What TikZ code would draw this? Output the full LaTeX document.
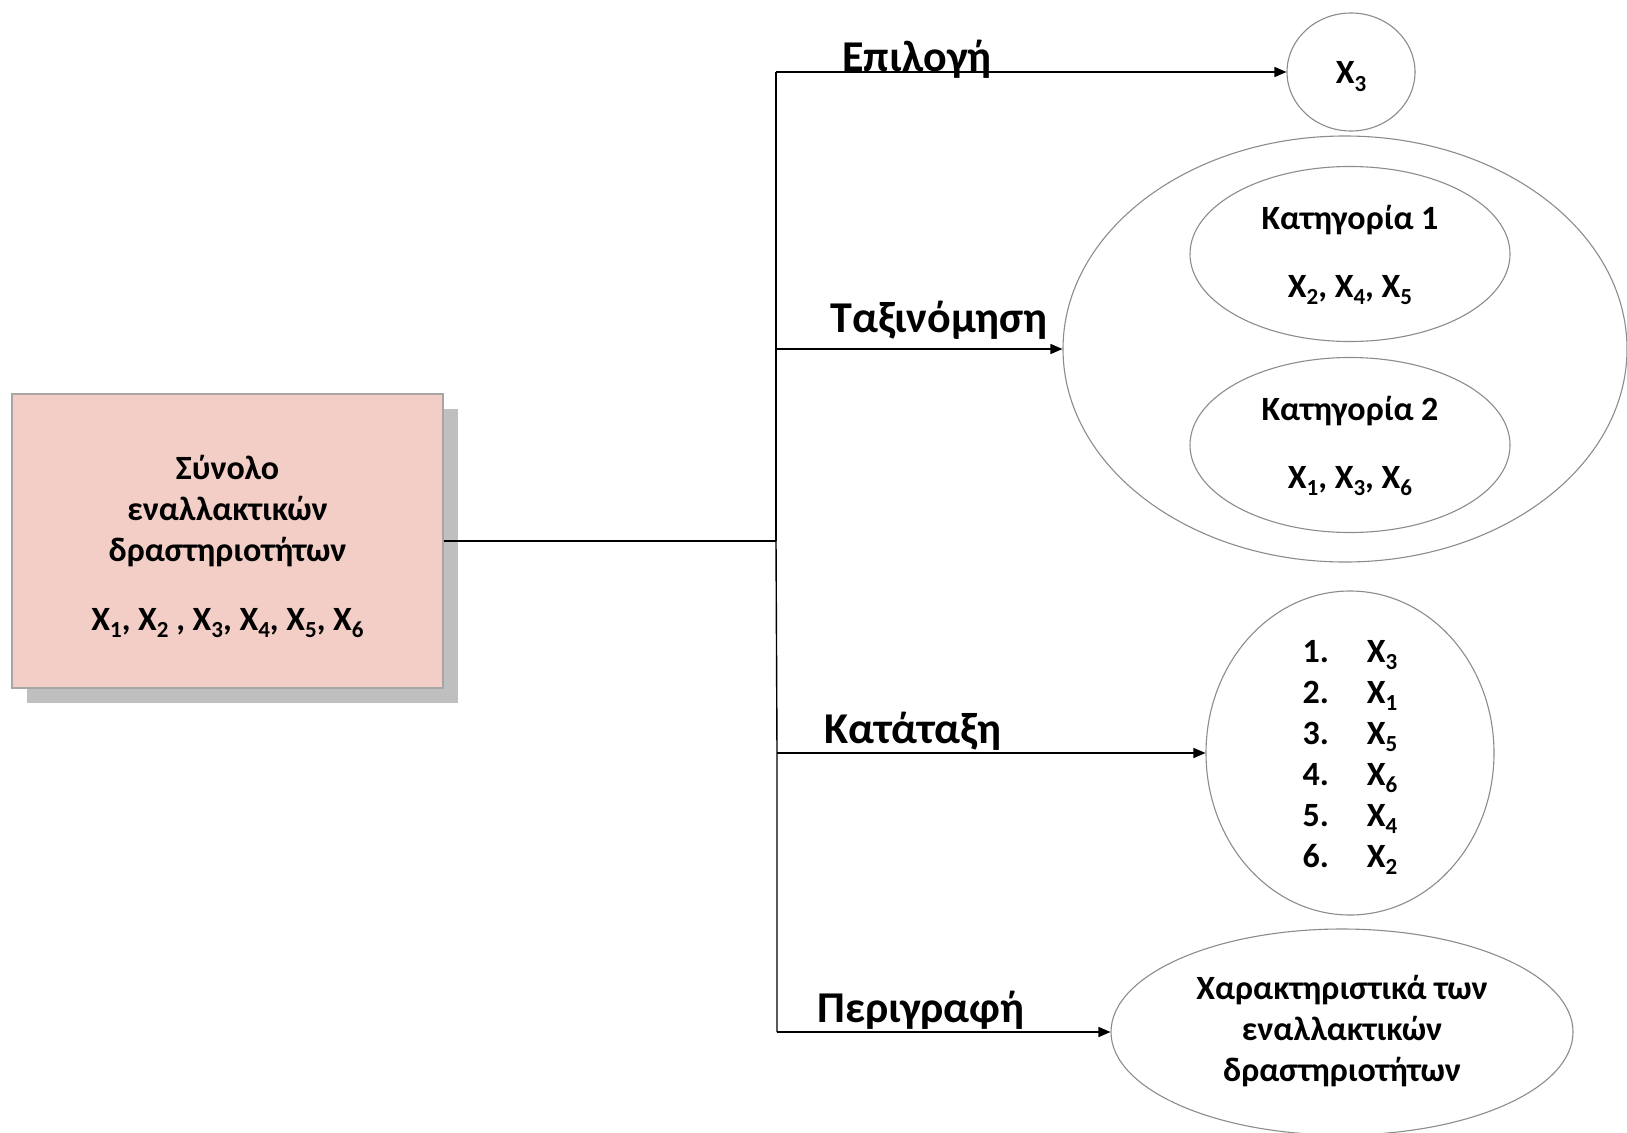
\documentclass[tikz,border=0pt]{standalone}
\usepackage{fontspec}
\setmainfont{Carlito}
\usetikzlibrary{arrows.meta,shapes.geometric}
\definecolor{boxfill}{HTML}{F2CEC6}
\definecolor{boxborder}{HTML}{A6A6A6}
\definecolor{shadowgray}{HTML}{BFBFBF}
\definecolor{ellline}{HTML}{8C8C8C}
\newcommand{\Xs}[1]{X\raisebox{-7pt}{\fontsize{23}{23}\selectfont #1}}
\begin{document}
\begin{tikzpicture}[x=1pt,y=-1pt,
  conn/.style={line width=1.4pt, draw=black},
  arr/.style={conn,-{Triangle[length=12pt,width=10pt]}},
  ell/.style={ellipse, draw=ellline, line width=1.1pt, inner sep=0pt},
  lbl/.style={font=\fontsize{44}{52}\selectfont\bfseries, anchor=base, inner sep=0pt},
  txt/.style={font=\fontsize{34}{41}\selectfont\bfseries, align=center, inner sep=0pt}]
\useasboundingbox (0,0) rectangle (1627,1132);
\fill[white] (0,0) rectangle (1627,1132);

% source box with shadow
\fill[shadowgray] (27,409) rectangle (458,703);
\node[draw=boxborder, fill=boxfill, line width=1.2pt, minimum width=431pt, minimum height=294pt, inner sep=0pt] (src) at (227.5,541) {};
\node[txt] (srctxt) at (227.5,511) {Σύνολο\\εναλλακτικών\\δραστηριοτήτων};
\node[txt, anchor=base] (srcx) at (227.5,630) {\Xs{1}, \Xs{2} , \Xs{3}, \Xs{4}, \Xs{5}, \Xs{6}};

% targets
\node[ell, minimum width=128pt, minimum height=118pt] (sel) at (1351,72) {};
\node[txt, anchor=base] (seltxt) at (1351,84) {\Xs{3}};

\node[ell, minimum width=564pt, minimum height=426pt] (cls) at (1345,349) {};
\node[ell, minimum width=320pt, minimum height=175pt] (cat1) at (1350,254) {};
\node[txt] (cat1t) at (1350,220) {Κατηγορία 1};
\node[txt, anchor=base] (cat1x) at (1350,297) {\Xs{2}, \Xs{4}, \Xs{5}};
\node[ell, minimum width=320pt, minimum height=175pt] (cat2) at (1350,445) {};
\node[txt] (cat2t) at (1350,411) {Κατηγορία 2};
\node[txt, anchor=base] (cat2x) at (1350,488) {\Xs{1}, \Xs{3}, \Xs{6}};

\node[ell, minimum width=288pt, minimum height=324pt] (rank) at (1350,753) {};
\node[txt] (ranklist) at (1350,757) {\begin{tabular}{@{}l@{\hspace{38pt}}l@{}}
1. & \Xs{3}\\ 2. & \Xs{1}\\ 3. & \Xs{5}\\ 4. & \Xs{6}\\ 5. & \Xs{4}\\ 6. & \Xs{2}
\end{tabular}};

\node[ell, minimum width=462pt, minimum height=206pt] (desc) at (1342,1032) {};
\node[txt] (desct) at (1342,1031) {Χαρακτηριστικά των\\εναλλακτικών\\δραστηριοτήτων};

% connectors
\coordinate (jn) at (776,541);
\coordinate (t1) at (776,72);
\coordinate (t2) at (776,349);
\coordinate (t3) at (777,753);
\coordinate (t4) at (777,1032);
\draw[conn] (src.east |- jn) -- (jn);
\draw[conn] (t1) -- (t2) -- (jn);
\draw[conn] (jn) -- (t3) -- (t4);
\draw[arr] (t1) -- (sel.west);
\draw[arr] (t2) -- (cls.west);
\draw[arr] (t3) -- (rank.west);
\draw[arr] (t4) -- (desc.west);

% labels
\node[lbl] (l1) at (917,71) {Επιλογή};
\node[lbl] (l2) at (939,332) {Ταξινόμηση};
\node[lbl] (l3) at (913,743) {Κατάταξη};
\node[lbl] (l4) at (921,1022) {Περιγραφή};
\end{tikzpicture}
\end{document}
